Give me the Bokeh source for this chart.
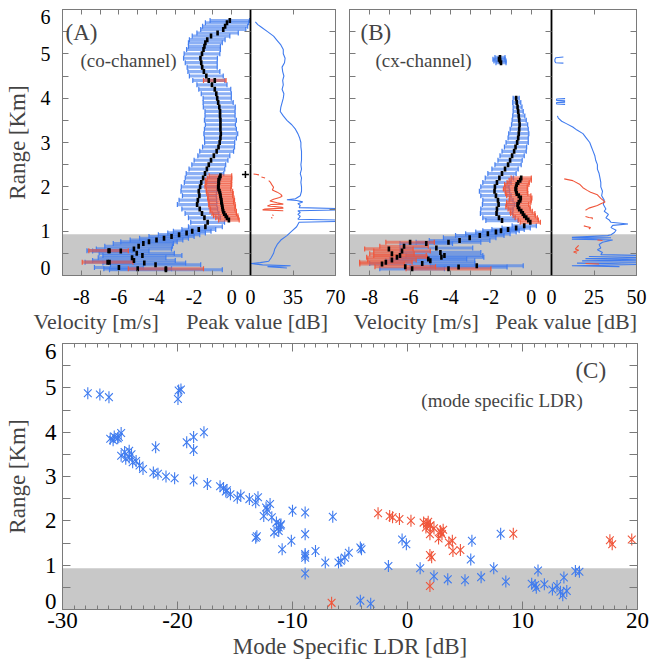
import numpy as np
from bokeh.plotting import figure
from bokeh.models import (Range1d, LinearAxis, FixedTicker, BoxAnnotation, Whisker,
                          TeeHead, ColumnDataSource, Label, Title, CustomJSTickFormatter)
from bokeh.layouts import column, row
from bokeh.embed import file_html
from bokeh.resources import INLINE

nan = float("nan")

# ---------------- ticks ----------------
range_ticks = [0, 1, 2, 3, 4, 5, 6]
range_minor = [0, 0.5, 1, 1.5, 2, 2.5, 3, 3.5, 4, 4.5, 5, 5.5, 6]
vel_ticks = [-8, -6, -4, -2, 0]
vel_minor = [-9, -7, -5, -3, -1, 1]
peak_ticks_A = [0, 35, 70]
peak_ticks_B = [0, 25, 50]
ldr_ticks = [-30, -20, -10, 0, 10, 20]
ldr_minor = [t for t in range(-30, 21) if t % 10]

blind_zone_top = 0.93  # km, shaded lowest range

# ---------------- panel A (co-channel) ----------------
A_main_r = [5.75, 5.70, 5.62, 5.55, 5.47, 5.40, 5.32, 5.25, 5.17, 5.10,
            5.0, 4.9, 4.8, 4.7, 4.6, 4.5, 4.4, 4.3, 4.2, 4.1,
            4.0, 3.9, 3.8, 3.7, 3.6, 3.5, 3.4, 3.3, 3.2, 3.1,
            3.0, 2.9, 2.8, 2.7, 2.6, 2.5, 2.4, 2.3, 2.2, 2.1,
            2.0, 1.9, 1.8, 1.7, 1.6, 1.5, 1.4, 1.3, 1.2, 1.1,
            1.04, 1.0, 0.96, 0.92, 0.88, 0.84, 0.80, 0.76, 0.72, 0.66,
            0.60, 0.56, 0.55, 0.50, 0.45, 0.40, 0.34, 0.30, 0.28, 0.24,
            0.18, 0.15, 0.13]
A_main_v = [-0.10, -0.25, -0.35, -0.45, -0.75, -1.10, -1.30, -1.40, -1.45, -1.50,
            -1.58, -1.66, -1.62, -1.57, -1.48, -1.35, -1.22, -1.05, -0.90, -0.82,
            -0.77, -0.72, -0.66, -0.62, -0.62, -0.60, -0.60, -0.60, -0.58, -0.60,
            -0.64, -0.70, -0.80, -0.95, -1.10, -1.22, -1.32, -1.42, -1.52, -1.62,
            -1.68, -1.75, -1.72, -1.80, -1.84, -1.70, -1.58, -1.45, -1.28, -1.40,
            -1.75, -2.10, -2.40, -2.80, -3.20, -3.60, -4.00, -4.40, -4.70, -4.95,
            -5.20, -6.50, -5.90, -5.05, -4.75, -5.30, -5.20, -6.50, -4.65, -4.05,
            -6.00, -5.00, -3.50]
A_main_hw = [1.05, 1.15, 1.20, 1.20, 1.10, 1.00, 0.95, 0.90, 0.85, 0.90,
             0.95, 0.90, 0.85, 0.80, 0.85, 0.90, 0.85, 0.80, 0.85, 0.80,
             0.75, 0.80, 0.85, 0.80, 0.80, 0.85, 0.80, 0.85, 0.90, 0.85,
             0.80, 0.85, 0.90, 0.85, 0.90, 0.90, 0.95, 1.00, 0.95, 0.90,
             1.00, 0.95, 0.90, 1.00, 1.05, 0.95, 0.90, 0.85, 0.90, 0.90,
             0.90, 1.00, 1.00, 1.10, 1.20, 1.30, 1.40, 1.50, 1.60, 1.80,
             2.00, 1.20, 1.50, 2.00, 2.10, 1.80, 2.20, 1.30, 2.20, 2.40,
             1.30, 1.80, 3.00]

A_sec_r = [4.40, 2.25, 2.20, 2.15, 2.10, 2.05, 2.00, 1.95, 1.90, 1.85,
           1.80, 1.75, 1.70, 1.65, 1.60, 1.55, 1.50, 1.45, 1.40, 1.35,
           1.30, 1.25, 0.56, 0.30, 0.15]
A_sec_v = [-0.90, -0.60, -0.65, -0.70, -0.68, -0.70, -0.72, -0.70, -0.65, -0.62,
           -0.60, -0.58, -0.55, -0.55, -0.52, -0.50, -0.48, -0.45, -0.40, -0.32,
           -0.25, -0.15, -6.55, -6.60, -3.50]
A_sec_hw = [0.60, 0.60, 0.65, 0.70, 0.65, 0.70, 0.70, 0.65, 0.70, 0.70,
            0.65, 0.70, 0.70, 0.65, 0.70, 0.70, 0.65, 0.70, 0.65, 0.65,
            0.60, 0.55, 1.05, 1.35, 2.00]

A_outlier_v = [0.73]
A_outlier_r = [2.28]

A_peak_r = [5.72, 5.66, 5.60, 5.50, 5.40, 5.30, 5.20, 5.10, 5.00, 4.90,
            4.80, 4.70, 4.60, 4.50, 4.40, 4.30, 4.20, 4.10, 4.00, 3.90,
            3.80, 3.70, 3.60, 3.50, 3.40, 3.30, 3.20, 3.10, 3.00, 2.90,
            2.80, 2.70, 2.60, 2.50, 2.40, 2.30, 2.20, 2.10, 2.00, 1.90,
            1.80, 1.73, 1.71, 1.69, 1.66, 1.62, 1.58, 1.53, 1.51, 1.48,
            1.46, 1.42, 1.38, 1.34, 1.30, 1.27, 1.25, 1.22, 1.20, 1.15,
            1.10, 1.00, 0.90, 0.80, 0.70, 0.60, 0.50, 0.40, 0.32, 0.29,
            0.27, 0.24, 0.22, 0.20, 0.17]
A_peak_db = [4, 6, 9, 14, 19, 22, 25, 27, 27, 28.5,
             28, 26, 26.5, 27.5, 26.5, 27, 26, 27.5, 27, 26,
             25, 24.5, 27, 30, 34, 37, 39, 40.5, 41.5, 41.5,
             42, 42, 42, 41.5, 42, 41, 42, 41.5, 42, 42,
             41, 37, 30, 38, 43, 39, 41, 40, 75, 75,
             39, 41, 39, 41, 40, 39, 75, 75, 40, 39,
             38, 34, 30, 25, 22, 20, 19, 17, 15, 8,
             0.5, 10, 33, 14, 30]
A_peak2_r = [2.29, 2.27, nan, 2.22, 2.20, nan, 2.14, 2.10, 2.05, 1.99,
             1.93, 1.88, 1.83, 1.79, 1.76, 1.72, 1.68, 1.64, 1.61, 1.60,
             1.57, 1.54, 1.52, 1.50, 1.48, 1.46, nan, 1.37, 1.35, nan,
             1.31, 1.29]
A_peak2_db = [2.5, 7, nan, 9, 12, nan, 15, 16.5, 17.5, 19,
              18, 22, 25, 26, 24, 19, 16, 22, 27, 17,
              14, 26, 27, 12, 10, 27, nan, 18, 19, nan,
              17, 18]

# ---------------- panel B (cx-channel) ----------------
B_main_r = [4.92, 4.88, 4.84, 4.80,
            4.00, 3.90, 3.80, 3.70, 3.60, 3.50, 3.40, 3.30, 3.20, 3.10,
            3.00, 2.90, 2.80, 2.70, 2.60, 2.50, 2.40, 2.30, 2.20, 2.10,
            2.00, 1.90, 1.80, 1.70, 1.60, 1.50, 1.40, 1.30, 1.24, 1.12,
            1.07, 1.04, 1.01, 0.98, 0.94, 0.90, 0.85, 0.79, 0.75, 0.72,
            0.62, 0.52, 0.45, 0.41, 0.37, 0.33, 0.27, 0.22, 0.19, 0.15]
B_main_v = [-1.55, -1.60, -1.55, -1.50,
            -0.75, -0.72, -0.68, -0.65, -0.62, -0.60, -0.58, -0.60, -0.62, -0.65,
            -0.70, -0.78, -0.85, -0.95, -1.05, -1.15, -1.30, -1.45, -1.58, -1.70,
            -1.80, -1.82, -1.75, -1.65, -1.62, -1.70, -1.72, -1.60, -1.45, -0.35,
            -0.75, -1.15, -1.50, -1.75, -2.15, -2.55, -3.05, -3.55, -4.10, -5.20,
            -4.70, -4.50, -4.30, -4.45, -5.10, -5.00, -5.40, -2.70, -3.60, -5.90]
B_main_hw = [0.25, 0.30, 0.30, 0.25,
             0.15, 0.20, 0.22, 0.25, 0.30, 0.35, 0.40, 0.45, 0.50, 0.50,
             0.55, 0.55, 0.60, 0.60, 0.60, 0.65, 0.65, 0.70, 0.70, 0.70,
             0.70, 0.75, 0.75, 0.75, 0.80, 0.80, 0.80, 0.80, 0.80, 0.60,
             0.70, 0.80, 0.90, 1.00, 1.10, 1.20, 1.30, 1.50, 1.60, 1.30,
             1.80, 2.00, 1.90, 2.10, 1.90, 2.20, 2.60, 2.30, 2.40, 1.60]

B_sec_r = [2.20, 2.15, 2.10, 2.05, 2.00, 1.95, 1.90, 1.85, 1.80, 1.75,
           1.70, 1.65, 1.60, 1.55, 1.50, 1.45, 1.40, 1.35, 1.30, 1.25,
           1.20, 0.75, 0.66, 0.60, 0.55, 0.49, 0.45, 0.41, 0.35, 0.30,
           0.26, 0.20, 0.15]
B_sec_v = [-0.50, -0.55, -0.65, -0.72, -0.75, -0.78, -0.75, -0.72, -0.62, -0.52,
           -0.55, -0.62, -0.68, -0.66, -0.60, -0.50, -0.42, -0.35, -0.25, -0.15,
           -0.05, -6.00, -6.30, -7.05, -6.40, -6.90, -6.50, -6.65, -6.90, -7.20,
           -7.39, -6.24, -4.10]
B_sec_hw = [0.50, 0.55, 0.55, 0.60, 0.55, 0.60, 0.55, 0.55, 0.60, 0.55,
            0.55, 0.60, 0.55, 0.60, 0.55, 0.55, 0.60, 0.55, 0.55, 0.50,
            0.50, 1.20, 1.20, 1.20, 1.40, 1.10, 1.30, 1.50, 1.20, 1.30,
            1.10, 1.50, 2.10]

B_peak_r = [4.93, 4.91, 4.87, 4.83, 4.80, 4.79, nan,
            3.99, 3.98, 3.95, 3.94, nan,
            3.91, 3.90, 3.87, 3.86, nan,
            3.60, 3.55, 3.48, 3.42, 3.35, 3.28, 3.20, 3.10, 3.00, 2.90,
            2.80, 2.70, 2.60, 2.50, 2.40, 2.30, 2.20, 2.10, 2.00, 1.90,
            1.80, 1.70, 1.60, 1.50, 1.45, 1.38, 1.30, 1.25, 1.20, 1.16,
            1.13, 1.08, 1.02, 0.97, 0.92, 0.90, 0.86, 0.85, 0.83, 0.82,
            0.80, 0.75, 0.70, 0.62, 0.58, 0.52, 0.47, 0.45, 0.43, 0.40,
            0.38, 0.35, 0.33, 0.30, 0.28, 0.25, 0.22, 0.20]
B_peak_db = [7, 2.5, 2, 2, 2.5, 7, nan,
             8, 3, 3, 8, nan,
             8, 3, 3, 8, nan,
             3.5, 4, 6, 9, 12.5, 15, 18.5, 20.5, 22.5, 23.5,
             24.5, 25.5, 26, 27, 27, 28, 28.5, 29, 29, 30,
             29.5, 31, 30.5, 32, 31, 33.5, 32, 34, 35, 45,
             36, 35, 38, 37, 35, 33, 12, 35, 20, 12,
             36, 30, 28, 29, 27, 30, 29, 55, 22, 55,
             20, 55, 18, 55, 15, 55, 12, 40]
B_peak2_r = [2.18, 2.14, 2.06, 1.98, 1.92, 1.88, 1.82, 1.74, 1.66, 1.62,
             1.58, 1.52, 1.47, nan, 1.33, 1.31, 1.30, 1.27, nan, 1.12,
             1.10, 1.08, 1.05, nan, 0.80, 0.79, nan, 0.68, 0.64, 0.60,
             0.57, 0.53, 0.50, nan, 0.27, 0.26]
B_peak2_db = [7.5, 12.5, 16.5, 18.5, 21, 23, 27, 29, 31.5, 29,
              27, 22, 20, nan, 20, 22, 24, 24, nan, 19,
              21, 23, 22, nan, 27, 30, nan, 16, 15, 14,
              16, 13, 15, nan, 20, 28]

# ---------------- panel C (mode specific LDR) ----------------
C_blue_ldr = [-27.8, -26.75, -25.96, -25.85, -25.5, -24.9, -25.1, -19.9, -19.96, -19.7,
              -21.9, -19.2, -18.6, -18.6, -17.7, -24.9, -24.6, -24.2, -24.2, -23.9,
              -23.3, -23.0, -22.1, -21.7, -21.0, -20.25, -18.6, -17.4, -16.3, -15.7,
              -15.4, -14.5, -13.75, -13.2, -13.0, -12.3, -11.95, -12.5, -11.8, -11.4,
              -11.05, -11.2, -11.6, -13.2, -10.9, -10.1, -10.0, -8.9, -8.9, -8.9,
              -8.9, -8.0, -8.9, -7.15, -6.5, -6.0, -5.45, -5.1, -4.1, -4.1,
              -3.2, -1.66, -0.47, -0.1, 1.1, 2.3, 3.5, 5.0, 5.5, 5.6,
              6.4, 7.5, 8.1, 8.55, 10.8, 11.2, 11.35, 11.9, 12.6, 13.0,
              13.5, 13.6, 13.85, 14.6, 14.95, -24.0, -23.6, -24.5, -16.0, -15.8,
              -14.8, -12.2, -11.2, -11.0, -25.6, -25.2, -13.1, -8.9, -5.8, -4.0,
              11.1, 13.3]
C_blue_km = [4.88, 4.85, 4.79, 3.85, 3.90, 3.98, 3.89, 4.94, 4.75, 4.96,
             3.66, 3.77, 3.89, 3.60, 4.00, 3.47, 3.55, 3.58, 3.43, 3.32,
             3.25, 3.17, 3.09, 3.06, 3.00, 2.96, 2.91, 2.83, 2.78, 2.69,
             2.60, 2.57, 2.49, 2.42, 2.53, 2.30, 2.38, 2.11, 2.08, 1.96,
             1.89, 1.77, 1.74, 1.62, 1.36, 1.55, 2.23, 2.19, 1.70, 1.25,
             1.17, 1.32, 0.81, 1.06, 2.09, 1.06, 1.17, 1.28, 1.40, 0.20,
             0.13, 0.98, 1.58, 1.47, 0.93, 0.75, 0.68, 0.66, 1.13, 1.55,
             0.73, 0.93, 1.71, 0.63, 0.58, 0.49, 0.88, 0.57, 0.45, 0.53,
             0.32, 0.72, 0.42, 0.87, 0.85, 3.50, 3.35, 3.40, 2.74, 2.66,
             2.52, 2.25, 1.85, 1.92, 3.82, 3.86, 1.65, 1.22, 1.10, 1.36,
             0.55, 0.40]
C_red_ldr = [-2.56, -1.55, -1.3, -0.7, 0.3, 1.4, 1.6, 1.95, 2.3, 1.95,
             2.85, 3.0, 2.7, 3.6, 3.9, 3.95, 4.6, 1.95, 2.1, 1.95,
             -6.6, 9.2, 17.6, 17.8, 19.5, 1.7, 1.8, 2.0, 2.9, 3.1]
C_red_km = [2.17, 2.11, 2.08, 2.04, 2.00, 1.96, 1.85, 1.89, 1.83, 1.70,
            1.77, 1.70, 1.60, 1.51, 1.55, 1.32, 1.34, 1.23, 1.18, 0.53,
            0.15, 1.71, 1.56, 1.47, 1.58, 1.93, 1.98, 1.90, 1.74, 1.80]

# ---------------- style ----------------
FONT = "Liberation Serif"
BLUE = "#3f7bef"
RED = "#f0553a"
BAND = "#c8c8c8"
EDGE = "#7a7a7a"
TOP_H, BOT_H = 337, 334
END_INSET = 0.17  # km: end labels "0" and "6" sit slightly inside the frame

INT_FMT = CustomJSTickFormatter(code="return Math.round(tick).toString();")


def y_label_positions():
    pos = list(range_ticks)
    pos[0] = range_ticks[0] + END_INSET
    pos[-1] = range_ticks[-1] - END_INSET
    return pos


def style(ax, major_len, minor_len, font_size=None, standoff=0):
    ax.major_tick_in = major_len
    ax.major_tick_out = 0
    ax.minor_tick_in = minor_len
    ax.minor_tick_out = 0
    ax.major_tick_line_color = EDGE
    ax.minor_tick_line_color = EDGE
    ax.axis_line_color = EDGE
    if font_size:
        ax.major_label_text_font = FONT
        ax.major_label_text_font_size = font_size
        ax.major_label_text_color = "black"
        ax.major_label_standoff = standoff


def bare_axis(minor, tick_len, **kw):
    ax = LinearAxis(ticker=FixedTicker(ticks=[], minor_ticks=list(minor)), **kw)
    style(ax, 0, tick_len)
    return ax


def y_label_axis(font_size, standoff, tick_len, label=None, label_standoff=0):
    ax = LinearAxis(ticker=FixedTicker(ticks=y_label_positions(), minor_ticks=range_minor),
                    formatter=INT_FMT)
    style(ax, 0, tick_len, font_size, standoff)
    if label:
        ax.axis_label = label
        ax.axis_label_text_font = FONT
        ax.axis_label_text_font_size = "23px"
        ax.axis_label_text_font_style = "normal"
        ax.axis_label_standoff = label_standoff
    return ax


def add_profile(p, r, v, hw, color):
    r = np.asarray(r, float)
    v = np.asarray(v, float)
    hw = np.asarray(hw, float)
    src = ColumnDataSource(dict(r=r, lo=v - hw, hi=v + hw))
    w = Whisker(source=src, base="r", lower="lo", upper="hi", dimension="width",
                line_color=color, line_width=3.2, line_alpha=0.6, level="underlay",
                upper_head=TeeHead(size=5, line_color=color, line_width=1.2, line_alpha=0.95),
                lower_head=TeeHead(size=5, line_color=color, line_width=1.2, line_alpha=0.95))
    p.add_layout(w)


def make_pair(width, left_b, right_b, vel_px, peak_px, peak_max, peak_ticks,
              main, sec, peak1, peak2, tag_px, chan_px, frame_left_px, title_px, gap_n,
              tag, chan, ylabel):
    vel_scale = vel_px / 10.0
    vel_end = 1 + peak_px / vel_scale
    db_per_vel = peak_max / (vel_end - 1)
    p = figure(width=width, height=TOP_H,
               x_range=Range1d(-9, vel_end), y_range=Range1d(0, 6),
               output_backend="svg", toolbar_location=None,
               x_axis_location=None, y_axis_location=None,
               min_border_left=left_b, min_border_right=right_b,
               min_border_top=9, min_border_bottom=62)
    p.extra_x_ranges = {"peak": Range1d(-peak_max * vel_px / peak_px, peak_max)}
    p.grid.visible = False
    p.outline_line_color = EDGE
    p.background_fill_color = "white"
    p.border_fill_color = "white"

    p.add_layout(BoxAnnotation(top=blind_zone_top, fill_color=BAND, fill_alpha=1,
                               line_color=None, level="image"))

    # bottom axis: velocity ticks, plus the peak-value ticks of the right sub-panel
    peak_pos = [1 + t / db_per_vel for t in peak_ticks]
    fmt = CustomJSTickFormatter(args=dict(k=db_per_vel), code="""
        if (tick > 0.5) { return Math.round((tick - 1) * k).toString(); }
        return Math.round(tick).toString();""")
    axb = LinearAxis(ticker=FixedTicker(ticks=vel_ticks + peak_pos, minor_ticks=vel_minor),
                     formatter=fmt)
    style(axb, 5, 5, "20px", 14)
    p.add_layout(axb, "below")
    p.add_layout(bare_axis(vel_ticks + vel_minor + peak_pos, 5), "above")

    if ylabel:
        p.add_layout(y_label_axis("20px", 12, 6, "Range [Km]", 8), "left")
    else:
        p.add_layout(bare_axis(range_minor, 6), "left")
    p.add_layout(bare_axis(range_minor, 6), "right")
    adiv = bare_axis(range_minor, 6, fixed_location=1)
    adiv.axis_line_color = "black"
    adiv.axis_line_width = 1.8
    p.add_layout(adiv, "right")

    add_profile(p, *main, BLUE)
    add_profile(p, *sec, RED)
    p.scatter(main[1], main[0], marker="dash", angle=np.pi / 2, size=5,
              line_width=2.6, line_color="black")
    p.scatter(sec[1], sec[0], marker="dash", angle=np.pi / 2, size=5,
              line_width=2.6, line_color="black")

    p.line(peak1[1], peak1[0], x_range_name="peak", line_color=BLUE, line_width=1.1)
    p.line(peak2[1], peak2[0], x_range_name="peak", line_color=RED, line_width=1.1)

    def vx(px):
        return -9 + (px - frame_left_px) / vel_scale

    p.add_layout(Label(x=vx(tag_px), y=5.49, text=tag, text_font=FONT,
                       text_font_size="23px", text_align="left", text_baseline="middle"))
    p.add_layout(Label(x=vx(chan_px), y=4.86, text=chan, text_font=FONT,
                       text_font_size="19px", text_align="left", text_baseline="middle"))
    gap = "\u00a0" * gap_n
    p.add_layout(Title(text="Velocity [m/s]" + gap + "Peak value [dB]", align="left",
                       offset=title_px - frame_left_px, text_font=FONT,
                       text_font_size="22px", text_font_style="normal", standoff=0),
                 "below")
    return p


pa = make_pair(346, 62, 11, 188, 85, 70, peak_ticks_A,
               (A_main_r, A_main_v, A_main_hw), (A_sec_r, A_sec_v, A_sec_hw),
               (A_peak_r, A_peak_db), (A_peak2_r, A_peak2_db),
               65, 80, 62, 33, 5, "(A)", "(co-channel)", True)
pa.scatter(A_outlier_v, A_outlier_r, marker="cross", size=7, line_width=1.5, line_color="black")

pb = make_pair(304, 3, 14, 202, 85, 50, peak_ticks_B,
               (B_main_r, B_main_v, B_main_hw), (B_sec_r, B_sec_v, B_sec_hw),
               (B_peak_r, B_peak_db), (B_peak2_r, B_peak2_db),
               360, 375, 349, 353, 3, "(B)", "(cx-channel)", False)

# ---------------- panel C ----------------
pc = figure(width=650, height=BOT_H, x_range=Range1d(-30, 20), y_range=Range1d(0, 6),
            output_backend="svg", toolbar_location=None,
            x_axis_location=None, y_axis_location=None,
            min_border_left=62, min_border_right=13, min_border_top=6, min_border_bottom=62)
pc.grid.visible = False
pc.outline_line_color = EDGE
pc.add_layout(BoxAnnotation(top=blind_zone_top, fill_color=BAND, fill_alpha=1,
                            line_color=None, level="image"))
cxb = LinearAxis(ticker=FixedTicker(ticks=ldr_ticks, minor_ticks=ldr_minor), formatter=INT_FMT)
style(cxb, 8, 4, "23px", 3)
cxb.axis_label = "Mode Specific LDR [dB]"
cxb.axis_label_text_font = FONT
cxb.axis_label_text_font_size = "23px"
cxb.axis_label_text_font_style = "normal"
cxb.axis_label_standoff = 3
pc.add_layout(cxb, "below")
pc.add_layout(bare_axis(ldr_minor, 4), "above")
pc.add_layout(bare_axis(ldr_ticks, 8, fixed_location=6), "above")
pc.add_layout(y_label_axis("23px", 6, 8, "Range [Km]", 12), "left")
pc.add_layout(bare_axis(range_minor, 8), "right")

for xs, ys, col in ((C_blue_ldr, C_blue_km, BLUE), (C_red_ldr, C_red_km, RED)):
    pc.scatter(xs, ys, marker="x", size=11, line_color=col, line_width=1.1)
    pc.scatter(xs, ys, marker="dash", angle=np.pi / 2, size=12, line_color=col, line_width=1.1)

pc.add_layout(Label(x=14.6, y=5.4, text="(C)", text_font=FONT, text_font_size="23px",
                    text_align="left", text_baseline="middle"))
pc.add_layout(Label(x=1.2, y=4.72, text="(mode specific LDR)", text_font=FONT,
                    text_font_size="19px", text_align="left", text_baseline="middle"))

layout = column(row(pa, pb), pc)
open("out.html", "w").write(file_html(layout, INLINE))
